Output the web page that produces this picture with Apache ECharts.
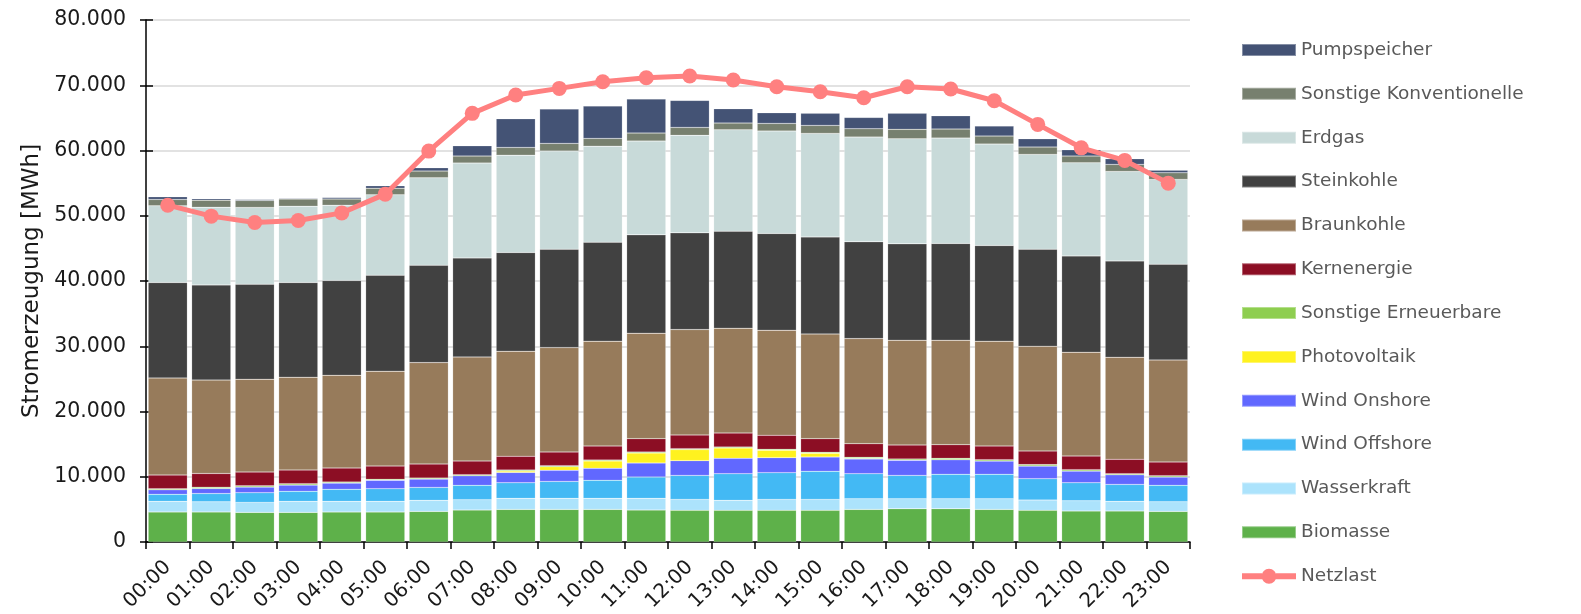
<!DOCTYPE html>
<html>
<head>
<meta charset="utf-8">
<script src="https://cdn.jsdelivr.net/npm/echarts@6/dist/echarts.min.js"></script>
<style>
  html, body { margin: 0; padding: 0; background: #fff; }
  #chart { width: 1581px; height: 614px; }
</style>
</head>
<body>
<div id="chart"></div>
<script>
// Stunden
const hours = ['00:00','01:00','02:00','03:00','04:00','05:00','06:00','07:00','08:00','09:00','10:00','11:00',
  '12:00','13:00','14:00','15:00','16:00','17:00','18:00','19:00','20:00','21:00','22:00','23:00'];

// Stromerzeugung je Energieträger [MWh]
const biomasse = [4600,4600,4540,4540,4590,4590,4690,4890,5000,5000,5000,4890,4850,4850,4850,4850,5000,5100,5100,5000,4850,4740,4740,4690];
const wasserkraft = [1630,1550,1530,1690,1640,1640,1690,1600,1690,1690,1690,1800,1680,1530,1680,1680,1640,1540,1540,1640,1580,1590,1490,1490];
const windOffshore = [1070,1280,1490,1530,1840,1940,1990,2190,2400,2600,2760,3260,3680,4090,4100,4300,3830,3570,3730,3730,3280,2760,2600,2500];
const windOnshore = [720,770,860,970,960,1280,1280,1490,1580,1690,1840,2150,2260,2350,2300,2190,2250,2300,2250,2040,1930,1780,1490,1270];
const photovoltaik = [0,0,0,0,0,0,0,0,200,560,1120,1530,1690,1580,1120,570,80,0,0,0,0,0,0,0];
const sonstErneuerbare = [150,200,210,210,160,150,150,150,160,160,150,160,150,160,150,150,170,210,200,210,220,220,150,220];
const kernenergie = [2090,2100,2090,2090,2150,2040,2150,2090,2100,2090,2150,2050,2090,2140,2150,2100,2100,2140,2100,2090,2090,2080,2200,2090];
const braunkohle = [14880,14310,14220,14220,14210,14530,15550,15950,16100,16010,16060,16150,16160,16060,16100,16050,16110,16060,16000,16060,16050,15910,15640,15640];
const steinkohle = [14630,14590,14570,14520,14530,14720,14920,15180,15140,15080,15180,15080,14820,14880,14830,14870,14830,14770,14830,14670,14880,14770,14770,14680];
const erdgas = [11750,11910,11760,11700,11540,12320,13390,14530,14920,15030,14720,14370,14940,15530,15700,15860,16040,16110,16150,15540,14520,14260,13710,12990];
const sonstKonventionelle = [980,1070,1070,1080,930,1020,1030,1070,1180,1180,1180,1230,1220,1030,1170,1230,1290,1440,1380,1230,1120,1030,1080,1010];
const pumpspeicher = [400,210,150,150,250,360,510,1580,4390,5260,4960,5210,4140,2200,1630,1840,1730,2450,2040,1530,1280,970,860,410];
const netzlast = [51620,49940,48970,49280,50440,53310,59910,65690,68500,69520,70540,71150,71410,70800,69770,69000,68090,69770,69420,67620,64000,60410,58480,55000];

// von unten nach oben gestapelt
const stackDefs = [
  ['Biomasse', biomasse, '#5EB14A'],
  ['Wasserkraft', wasserkraft, '#ACE3FC'],
  ['Wind Offshore', windOffshore, '#43B9F4'],
  ['Wind Onshore', windOnshore, '#6168FF'],
  ['Photovoltaik', photovoltaik, '#FFF21F'],
  ['Sonstige Erneuerbare', sonstErneuerbare, '#8ECE50'],
  ['Kernenergie', kernenergie, '#8C0E24'],
  ['Braunkohle', braunkohle, '#977B5B'],
  ['Steinkohle', steinkohle, '#414141'],
  ['Erdgas', erdgas, '#C8DAD9'],
  ['Sonstige Konventionelle', sonstKonventionelle, '#77806F'],
  ['Pumpspeicher', pumpspeicher, '#445375']
];

const fmt = v => String(v).replace(/\B(?=(\d{3})+(?!\d))/g, '.');
const font = 'DejaVu Sans';

// Legenden-Symbole (unsichtbare Randpunkte halten die Größe)
const rectIcon = 'path://M0,0M54,16M0,2H54V14H0Z';
const lineIcon = 'path://M0,0M54,16M0,5H20V11H0ZM34,5H54V11H34Z' +
  'M19.5,8A7.5,7.5 0 1,1 34.5,8A7.5,7.5 0 1,1 19.5,8Z';

const series = stackDefs.map(d => ({
  name: d[0],
  type: 'bar',
  stack: 'gen',
  barCategoryGap: '10%',
  itemStyle: { color: d[2], borderColor: 'rgba(255,255,255,0.35)', borderWidth: 0.5 },
  data: d[1]
}));
series.push({
  name: 'Netzlast',
  type: 'line',
  data: netzlast,
  symbol: 'circle',
  symbolSize: 15,
  z: 10,
  lineStyle: { color: '#FF8080', width: 5 },
  itemStyle: { color: '#FF8080' }
});

const legendNames = stackDefs.map(d => d[0]).reverse().concat(['Netzlast']);

const chart = echarts.init(document.getElementById('chart'), null, { renderer: 'canvas' });
chart.setOption({
  animation: false,
  backgroundColor: '#fff',
  grid: { left: 146, right: 391, top: 20, bottom: 72 },
  legend: {
    orient: 'vertical',
    left: 1236,
    top: 34,
    itemWidth: 54,
    itemHeight: 16,
    itemGap: 21.85,
    data: legendNames.map(n => ({ name: n, icon: n === 'Netzlast' ? lineIcon : rectIcon })),
    textStyle: { fontFamily: font, fontSize: 18.5, color: '#595959', lineHeight: 22 }
  },
  xAxis: {
    type: 'category',
    data: hours,
    axisLine: { lineStyle: { color: '#000', width: 1.5 } },
    axisTick: { show: true, length: 7, lineStyle: { color: '#000', width: 1.5 } },
    axisLabel: { rotate: 45, margin: 22, fontFamily: font, fontSize: 20, color: '#1a1a1a', interval: 0 }
  },
  yAxis: [{
    type: 'value',
    min: 0,
    max: 80000,
    interval: 10000,
    name: 'Stromerzeugung [MWh]',
    nameLocation: 'middle',
    nameGap: 101,
    nameTextStyle: { fontFamily: font, fontSize: 23, color: '#1a1a1a' },
    axisLine: { show: true, lineStyle: { color: '#000', width: 1.5 } },
    axisTick: { show: true, length: 6, lineStyle: { color: '#000', width: 1.5 } },
    splitLine: { lineStyle: { color: '#d9d9d9', width: 1.5 } },
    axisLabel: { formatter: fmt, margin: 20, fontFamily: font, fontSize: 20.5, color: '#1a1a1a' }
  }, {
    // nur für die nach innen ragenden Teilstriche
    type: 'value',
    position: 'left',
    min: 0,
    max: 80000,
    interval: 10000,
    axisLine: { show: false },
    axisTick: { show: true, inside: true, length: 7, lineStyle: { color: '#000', width: 1.5 } },
    axisLabel: { show: false },
    splitLine: { show: false }
  }],
  series: series
});
</script>
</body>
</html>
